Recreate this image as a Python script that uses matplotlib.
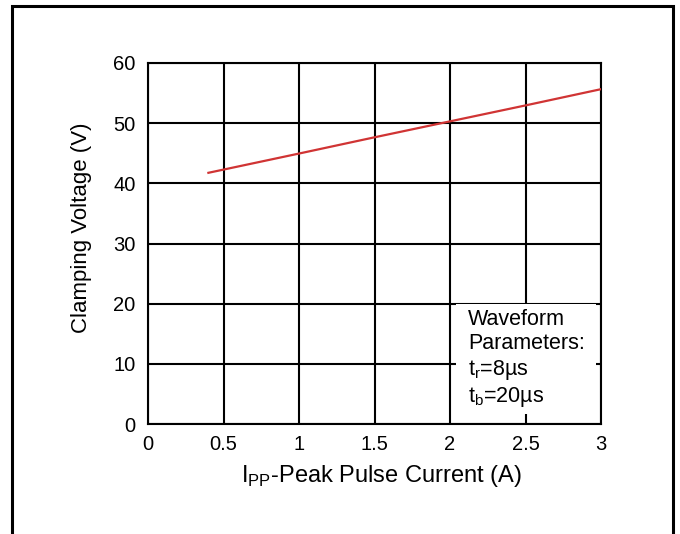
import numpy as np
import matplotlib
matplotlib.use('Agg')
import matplotlib.pyplot as plt
from matplotlib.patches import Rectangle

plt.rcParams['font.family'] = ['Liberation Sans', 'DejaVu Sans']

# data
ipp = [0.4, 1.0, 1.5, 2.0, 2.5, 3.0]
vclamp = [41.75, 44.95, 47.65, 50.3, 52.95, 55.65]
x_ticks = [0, 0.5, 1, 1.5, 2, 2.5, 3]
x_labels = ['0', '0.5', '1', '1.5', '2', '2.5', '3']
y_ticks = [0, 10, 20, 30, 40, 50, 60]

W, H = 680, 534
fig = plt.figure(figsize=(W / 100, H / 100), dpi=100)

# outer frame (open at the bottom)
fig.patches.append(Rectangle((12 / W, -0.05), (673 - 12) / W, (534 - 6) / H + 0.05,
                             transform=fig.transFigure, fill=False,
                             edgecolor='black', linewidth=2.2))

ax = fig.add_axes([148 / W, 1 - 424 / H, (601 - 148) / W, (424 - 63) / H])
ax.plot(ipp, vclamp, color='#d03434', linewidth=1.6, zorder=3)

ax.set_xlim(0, 3)
ax.set_ylim(0, 60)
ax.set_xticks(x_ticks)
ax.set_xticklabels(x_labels)
ax.set_yticks(y_ticks)
ax.grid(True, color='black', linewidth=1.5)
for s in ax.spines.values():
    s.set_linewidth(1.5)
ax.tick_params(length=0, labelsize=14.5)
ax.tick_params(axis='x', pad=8)
ax.tick_params(axis='y', pad=9)

ax.set_xlabel('I$_\\mathregular{PP}$-Peak Pulse Current (A)', fontsize=17)
ax.set_ylabel('Clamping Voltage (V)', fontsize=16)
ax.xaxis.set_label_coords(0.515, -0.144)
ax.xaxis.label.set_va('center')
ax.yaxis.set_label_coords(-0.146, 0.544)
ax.yaxis.label.set_va('center')

ax.text(2.12, 19.1,
        'Waveform\nParameters:\nt$_\\mathregular{r}$=8\u00b5s\nt$_\\mathregular{b}$=20\u00b5s',
        fontsize=15.5, va='top', ha='left', linespacing=1.2, zorder=4)
ax.add_patch(Rectangle((2.04, 1.7), 0.93, 18.3, facecolor='white',
                       edgecolor='none', zorder=2.5))

fig.savefig('out.png', dpi=100)
